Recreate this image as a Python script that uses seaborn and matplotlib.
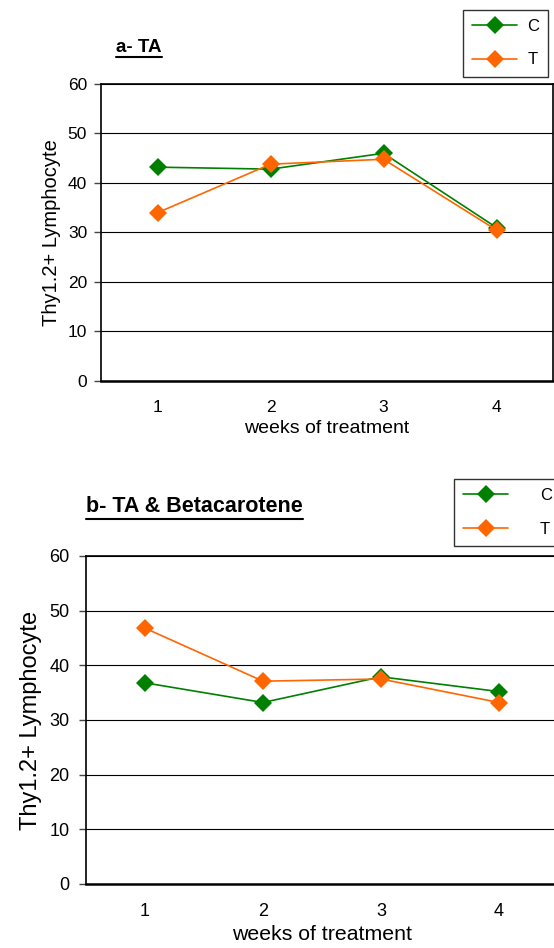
import pandas as pd
import numpy as np
import matplotlib.pyplot as plt
import seaborn as sns

sns.set_style('white')
plt.rcParams['font.family'] = ['Liberation Sans', 'DejaVu Sans']
plt.rcParams['text.color'] = 'black'
plt.rcParams['axes.labelcolor'] = 'black'
plt.rcParams['xtick.color'] = 'black'
plt.rcParams['ytick.color'] = 'black'

# dados
semanas = [1, 2, 3, 4]
grupos = ['C', 'T']
ta_c = [43.2, 42.8, 46.0, 31.0]
ta_t = [34.0, 43.8, 44.8, 30.5]
beta_c = [36.8, 33.2, 37.9, 35.2]
beta_t = [46.8, 37.1, 37.5, 33.2]
y_ticks = [0, 10, 20, 30, 40, 50, 60]

cores = {'C': '#008000', 'T': '#FF6600'}


def monta_df(c, t):
    return pd.DataFrame({
        'semana': semanas * 2,
        'valor': c + t,
        'grupo': ['C'] * 4 + ['T'] * 4,
    })


def painel(ax, df, titulo, tam, ypad, ylab_size, xlab_size, leg_xy, leg_pad, titulo_xy, titulo_size):
    sns.lineplot(data=df, x='semana', y='valor', hue='grupo', palette=cores,
                 marker='D', markersize=9, markeredgewidth=0, linewidth=1.2,
                 ax=ax, legend=True)
    ax.set_xlim(0.5, 4.5)
    ax.set_ylim(0, 60)
    ax.set_yticks(y_ticks)
    ax.set_xticks(semanas)
    ax.set_xticks([0.5, 1.5, 2.5, 3.5, 4.5], minor=True)
    ax.tick_params(axis='x', which='major', length=0, labelsize=tam, pad=14)
    ax.tick_params(axis='x', which='minor', length=5, width=1, color='#444444', direction='out')
    ax.tick_params(axis='y', length=5, width=1, color='#444444', labelsize=tam, pad=ypad,
                   direction='out', left=True)
    ax.grid(axis='y', color='black', linewidth=0.8)
    ax.set_axisbelow(True)
    for lado in ['left', 'top', 'right']:
        ax.spines[lado].set_color('black')
        ax.spines[lado].set_linewidth(1.2)
    ax.spines['bottom'].set_color('black')
    ax.spines['bottom'].set_linewidth(1.8)
    ax.set_xlabel('weeks of treatment', fontsize=xlab_size, labelpad=3)
    ax.set_ylabel('Thy1.2+ Lymphocyte', fontsize=ylab_size, labelpad=5)
    sns.move_legend(ax, 'upper left', bbox_to_anchor=leg_xy, bbox_transform=fig.transFigure,
                    title=None, frameon=True, fancybox=False, edgecolor='black',
                    fontsize=12, handlelength=2.7, labelspacing=1.1, borderpad=0.55,
                    handletextpad=leg_pad, borderaxespad=0)
    leg = ax.get_legend()
    leg.get_frame().set_linewidth(1.0)
    fig.text(titulo_xy[0], titulo_xy[1], titulo, fontsize=titulo_size, fontweight='bold',
             va='center', ha='left')
    # sublinhado do titulo
    t = fig.texts[-1]
    fig.canvas.draw()
    bb = t.get_window_extent().transformed(fig.transFigure.inverted())
    fig.add_artist(plt.Line2D([bb.x0, bb.x1], [bb.y0 - 0.002, bb.y0 - 0.002],
                              color='black', linewidth=1.5, transform=fig.transFigure))


fig = plt.figure(figsize=(5.54, 9.48), dpi=100)
ax1 = fig.add_axes([101 / 554, 1 - 381 / 948, 452 / 554, 297 / 948])
ax2 = fig.add_axes([86 / 554, 1 - 884 / 948, 472 / 554, 328 / 948])

painel(ax1, monta_df(ta_c, ta_t), 'a- TA', 12.5, 5, 14.5, 14,
       (463 / 554, 1 - 10 / 948), 0.6, (116 / 554, 1 - 47 / 948), 13.5)
painel(ax2, monta_df(beta_c, beta_t), 'b- TA & Betacarotene', 13, 7, 17, 15.3,
       (454 / 554, 1 - 479 / 948), 1.9, (86 / 554, 1 - 507 / 948), 15.5)

fig.savefig('out.png', dpi=100)
